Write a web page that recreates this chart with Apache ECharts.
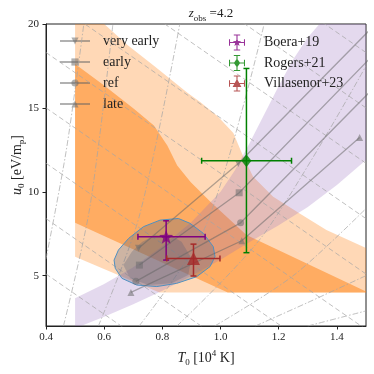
<!DOCTYPE html>
<html>
<head>
<meta charset="utf-8">
<script src="https://cdn.jsdelivr.net/npm/echarts@6/dist/echarts.min.js"></script>
<style>
  html, body { margin: 0; padding: 0; background: #fff; }
  #chart { width: 374px; height: 374px; }
</style>
</head>
<body>
<div id="chart"></div>
<script>
// axis ticks
var xTicks = [0.4, 0.6, 0.8, 1.0, 1.2, 1.4];
var yTicks = [5, 10, 15, 20];

// shaded constraints [T0, u0]
var orangeOuter = [[0.5, 20], [0.6, 20], [0.68, 18.75], [0.772, 17.5], [0.886, 15.9], [0.93, 15.35], [0.99, 14.5],
  [1.044, 13.5], [1.078, 12.1], [1.112, 10.9], [1.181, 9.7], [1.272, 8.7], [1.364, 7.72], [1.5, 6.65],
  [1.5, 4.0], [0.79, 4.0], [0.5, 6.13]];
var orangeInner = [[0.5, 17.62], [0.6, 16.33], [0.703, 14.94], [0.771, 13.95], [0.817, 12.76], [0.851, 11.57],
  [0.897, 10.58], [0.966, 9.39], [1.089, 7.42], [1.2, 6.51], [1.3, 5.69], [1.4, 4.87], [1.5, 4.05],
  [1.5, 4.0], [1.025, 4.0], [0.5, 8.15]];
var purpleBand = [[0.5, 2], [0.5, 3.66], [0.6, 4.5], [0.7, 5.5], [0.8, 6.75], [0.9, 8.2], [1.0, 10.0], [1.05, 11.3],
  [1.1, 12.9], [1.15, 14.6], [1.2, 16.3], [1.25, 17.9], [1.3, 19.2], [1.34, 20], [1.5, 20], [1.5, 11.9],
  [1.4, 10.4], [1.3, 9.1], [1.2, 8.0], [1.1, 7.0], [1.0, 5.95], [0.9, 5.0], [0.8, 4.1], [0.7, 3.3],
  [0.6, 2.55], [0.52, 2]];
var contourOuter = [[0.855, 8.41], [0.895, 8.12], [0.941, 7.52], [0.975, 6.73], [0.981, 6.13], [0.964, 5.54],
  [0.918, 4.94], [0.849, 4.54], [0.781, 4.35], [0.712, 4.44], [0.661, 4.84], [0.638, 5.44], [0.634, 5.93],
  [0.649, 6.53], [0.684, 7.22], [0.735, 7.92], [0.792, 8.31]];
var contourInner = [[0.666, 5.64], [0.695, 6.43], [0.73, 7.0], [0.775, 7.42], [0.83, 7.4], [0.866, 7.02],
  [0.9, 6.04], [0.889, 5.04], [0.832, 4.55], [0.752, 4.45], [0.689, 4.85]];

// background guide curves
var dashedLines = [
  [[0.4, 1.8], [1.5, -11.4]], [[0.4, 5.1], [1.5, -8.1]], [[0.4, 8.4], [1.5, -4.8]], [[0.4, 11.7], [1.5, -1.5]],
  [[0.4, 15.0], [1.5, 1.8]], [[0.4, 18.3], [1.5, 5.1]], [[0.4, 21.6], [1.5, 8.4]], [[0.4, 24.9], [1.5, 11.7]],
  [[0.4, 28.2], [1.5, 15.0]], [[0.4, 31.5], [1.5, 18.3]]
];
var dashDotLines = [
  [[0.40, 6.0], [0.47, 12.5], [0.53, 20]],
  [[0.46, 2.0], [0.55, 9.0], [0.63, 20]],
  [[0.58, 2.0], [0.72, 8.5], [0.86, 20]],
  [[0.72, 2.0], [0.95, 8.0], [1.15, 20]],
  [[0.85, 2.0], [1.15, 7.5], [1.5, 17.5]],
  [[0.98, 2.0], [1.25, 5.0], [1.5, 9.0]],
  [[1.12, 2.0], [1.3, 3.4], [1.5, 5.0]],
  [[1.3, 2.0], [1.5, 2.9]]
];

// reionization tracks
var trackNames = ['very early', 'early', 'ref', 'late'];
var trackVeryEarly = [[0.718, 6.63], [1.061, 11.69], [1.55, 20.3]];
var trackEarly = [[0.721, 5.63], [1.064, 9.94], [1.55, 18.6]];
var trackRef = [[0.709, 4.66], [1.069, 8.15], [1.55, 16.6]];
var trackLate = [[0.692, 4.0], [1.073, 7.08], [1.478, 13.23]];

// measurements
var obsNames = ['Boera+19', 'Rogers+21', 'Villasenor+23'];
var obsT0 = [0.813, 1.089, 0.907];
var obsT0Lo = [0.716, 0.935, 0.815];
var obsT0Hi = [0.947, 1.244, 0.998];
var obsU0 = [7.32, 11.85, 6.03];
var obsU0Lo = [5.93, 6.37, 4.98];
var obsU0Hi = [8.27, 17.35, 6.88];

var FONT = 'Liberation Serif';
var starPath = 'path://M10 4.5L11.35 8.14L15.23 8.3L12.19 10.71L13.23 14.45L10 12.3L6.77 14.45L7.81 10.71L4.77 8.3L8.65 8.14Z';
var crossPath = 'M0 9.3H20V10.7H0ZM9.3 0H10.7V20H9.3ZM0 6H1.3V14H0ZM18.7 6H20V14H18.7ZM6 0H14V1.3H6ZM6 18.7H14V20H6Z';
var obsColors = ['#800080', '#008000', '#a52a2a'];
var obsSymbols = [starPath, 'diamond', 'triangle'];
var obsSizes = [14, [10, 13], 13];
var obsIcons = [
  'path://' + crossPath + 'M10 4.5L11.35 8.14L15.23 8.3L12.19 10.71L13.23 14.45L10 12.3L6.77 14.45L7.81 10.71L4.77 8.3L8.65 8.14Z',
  'path://' + crossPath + 'M10 4.5L14 10L10 15.5L6 10Z',
  'path://' + crossPath + 'M10 4L15.5 14.5L4.5 14.5Z'
];
var trackData = [trackVeryEarly, trackEarly, trackRef, trackLate];
var trackSymbols = ['triangle', 'rect', 'circle', 'triangle'];
var trackRotate = [180, 0, 0, 0];

function polygon(points, fill, stroke, z) {
  return {
    type: 'custom', silent: true, z: z, clip: true, data: [[1, 10]],
    renderItem: function (params, api) {
      return {
        type: 'polygon',
        shape: { points: points.map(function (p) { return api.coord(p); }) },
        style: { fill: fill, stroke: stroke || 'none', lineWidth: 1 }
      };
    }
  };
}

var series = [];
series.push(polygon(orangeOuter, 'rgba(255,127,14,0.3)', null, 1));
series.push(polygon(orangeInner, 'rgba(255,127,14,0.5)', null, 2));
series.push(polygon(purpleBand, 'rgba(148,103,189,0.25)', null, 3));

dashedLines.forEach(function (d) {
  series.push({ type: 'line', data: d, silent: true, symbol: 'none', z: 4, clip: true,
    lineStyle: { color: 'rgba(165,165,165,0.7)', width: 1, type: [5, 3] } });
});
dashDotLines.forEach(function (d) {
  series.push({ type: 'line', data: d, silent: true, symbol: 'none', z: 4, clip: true, smooth: 0.3,
    lineStyle: { color: 'rgba(165,165,165,0.7)', width: 1, type: [6, 2, 1.5, 2] } });
});

series.push(polygon(contourOuter, 'rgba(90,95,120,0.3)', '#4f8fc0', 5));
series.push(polygon(contourInner, 'rgba(90,95,120,0.3)', null, 5));

trackNames.forEach(function (n, i) {
  series.push({
    type: 'line', name: n, data: trackData[i], z: 6, clip: true,
    symbol: trackSymbols[i], symbolRotate: trackRotate[i], symbolSize: 7,
    lineStyle: { color: 'rgba(100,100,100,0.5)', width: 1.3 },
    itemStyle: { color: 'rgba(110,110,110,0.55)' }
  });
});

obsNames.forEach(function (n, i) {
  var color = obsColors[i];
  series.push({
    type: 'custom', z: 7, silent: true,
    data: [[obsT0[i], obsU0[i], obsT0Lo[i], obsT0Hi[i], obsU0Lo[i], obsU0Hi[i]]],
    encode: { x: [0, 2, 3], y: [1, 4, 5] },
    renderItem: function (params, api) {
      var x = api.value(0), y = api.value(1);
      var l = api.coord([api.value(2), y]), r = api.coord([api.value(3), y]);
      var b = api.coord([x, api.value(4)]), t = api.coord([x, api.value(5)]);
      var h = 3, st = { stroke: color, lineWidth: 1.5 };
      function seg(x1, y1, x2, y2) { return { type: 'line', shape: { x1: x1, y1: y1, x2: x2, y2: y2 }, style: st }; }
      return { type: 'group', children: [
        seg(l[0], l[1], r[0], r[1]), seg(b[0], b[1], t[0], t[1]),
        seg(l[0], l[1] - h, l[0], l[1] + h), seg(r[0], r[1] - h, r[0], r[1] + h),
        seg(b[0] - h, b[1], b[0] + h, b[1]), seg(t[0] - h, t[1], t[0] + h, t[1])
      ] };
    }
  });
  series.push({
    type: 'scatter', name: n, z: 8, data: [[obsT0[i], obsU0[i]]],
    symbol: obsSymbols[i], symbolSize: obsSizes[i], itemStyle: { color: color }
  });
});

var richMain = { fontFamily: FONT, fontSize: 14, lineHeight: 18, color: '#222' };
function rich(size) {
  return {
    i: { fontFamily: FONT, fontSize: size, fontStyle: 'italic', lineHeight: 18, color: '#222' },
    s: { fontFamily: FONT, fontSize: 9, verticalAlign: 'bottom', color: '#222' },
    p: { fontFamily: FONT, fontSize: 9, verticalAlign: 'top', color: '#222' }
  };
}

var chart = echarts.init(document.getElementById('chart'));
chart.setOption({
  animation: false,
  title: {
    text: '{i|z}{s|obs} =4.2', left: 206, top: 0, textAlign: 'center',
    textStyle: { fontFamily: FONT, fontSize: 13, fontWeight: 'normal', lineHeight: 18, color: '#222', rich: rich(13) }
  },
  grid: { left: 46, right: 8, top: 24, bottom: 48, show: true, borderColor: '#222', borderWidth: 1,
    containLabel: false, outerBoundsMode: 'none' },
  legend: [{
    data: trackNames, orient: 'vertical', left: 59, top: 34, padding: 0,
    itemWidth: 30, itemHeight: 9, itemGap: 7, selectedMode: false,
    textStyle: { fontFamily: FONT, fontSize: 14, color: '#222', padding: [0, 0, 0, 8] }
  }, {
    data: obsNames.map(function (n, i) { return { name: n, icon: obsIcons[i] }; }),
    orient: 'vertical', left: 229, top: 34.5, padding: 0,
    itemWidth: 16, itemHeight: 16, itemGap: 4.5, selectedMode: false,
    textStyle: { fontFamily: FONT, fontSize: 14, color: '#222', padding: [0, 0, 0, 14] }
  }],
  xAxis: {
    type: 'value', min: 0.4, max: 1.5,
    name: '{i|T}{s|0} [10{p|4} K]', nameLocation: 'middle', nameGap: 23, nameMoveOverlap: false,
    nameTextStyle: Object.assign({ rich: rich(14) }, richMain),
    axisLine: { lineStyle: { color: '#222', width: 1 } },
    axisTick: { length: 3.5, customValues: xTicks, lineStyle: { color: '#222' } },
    axisLabel: { customValues: xTicks, margin: 6, fontFamily: FONT, fontSize: 11, color: '#222',
      formatter: function (v) { return v.toFixed(1); } },
    splitLine: { show: false }
  },
  yAxis: {
    type: 'value', min: 2, max: 20,
    name: '{i|u}{s|0} [eV/m{s|p}]', nameLocation: 'middle', nameGap: 20, nameMoveOverlap: false,
    nameTextStyle: Object.assign({ rich: rich(14), padding: [0, 0, 0, 20] }, richMain),
    axisLine: { lineStyle: { color: '#222', width: 1 } },
    axisTick: { length: 3.5, customValues: yTicks, lineStyle: { color: '#222' } },
    axisLabel: { customValues: yTicks, margin: 7, fontFamily: FONT, fontSize: 11, color: '#222' },
    splitLine: { show: false }
  },
  series: series
});
</script>
</body>
</html>
